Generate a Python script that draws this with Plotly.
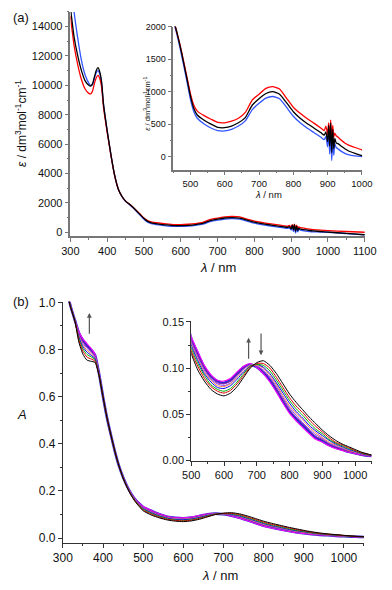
import plotly.graph_objects as go

# ---- panel (a): molar absorptivity, three spectra ----
wl_a = [300, 310, 320, 330, 340, 350, 355, 360, 365, 370, 375, 380, 385, 390,
        400, 410, 420, 430, 440, 450, 460, 470, 480, 490, 500, 510, 520, 540,
        560, 580, 600, 620, 640, 660, 680, 700, 720, 740, 760, 780, 800, 820,
        840, 860, 880, 890, 895, 900, 903, 906, 909, 912, 915, 918, 921, 925,
        930, 940, 950, 960, 980, 1000, 1050, 1100]

eps_black = [15300, 13300, 12000, 11000, 10300, 10000, 9950, 10100, 10550, 11000, 11200, 10900, 10200, 8700,
             6900, 5300, 3900, 2950, 2450, 2120, 1920, 1700, 1450, 1190, 930, 740, 640, 560,
             500, 450, 445, 470, 520, 600, 790, 890, 970, 1000, 960, 830, 690, 590,
             510, 440, 370, 330, 380, 230, 480, 160, 520, 60, 420, 120, 280, 210,
             200, 160, 120, 90, 50, 15, -80, -170]

eps_red = [14700, 12700, 11400, 10400, 9750, 9450, 9420, 9600, 10100, 10500, 10680, 10450, 9850, 8500,
           6800, 5250, 3880, 2950, 2450, 2120, 1920, 1710, 1470, 1220, 970, 790, 700, 630,
           575, 525, 520, 545, 590, 680, 870, 960, 1050, 1076, 1040, 900, 760, 665,
           585, 515, 440, 400, 470, 340, 520, 300, 560, 280, 480, 300, 360, 320,
           300, 250, 210, 180, 140, 105, 50, 0]

eps_blue = [17500, 15000, 13200, 11700, 10700, 10150, 10000, 10050, 10450, 10850, 11000, 10750, 10050, 8700,
            6900, 5300, 3900, 2950, 2430, 2100, 1890, 1660, 1410, 1150, 880, 690, 590, 500,
            440, 400, 395, 420, 470, 550, 720, 820, 900, 924, 890, 760, 620, 520,
            440, 370, 300, 260, 310, 150, 380, 40, 320, -60, 260, 20, 200, 140,
            120, 80, 50, 30, 10, 0, -90, -180]

# ---- panel (b): absorbance titration ----
wl_b = [300, 310, 320, 330, 340, 350, 360, 370, 380, 390, 400, 410, 420, 430, 440, 450, 460, 470, 480, 490,
        500, 520, 540, 560, 580, 600, 620, 640, 660, 680, 700, 720, 740, 760, 780, 800, 820, 840, 860, 880,
        900, 920, 940, 960, 980, 1000, 1020, 1040, 1050]

A_black = [1.12, 1.04, 0.975, 0.92, 0.83, 0.78, 0.755, 0.75, 0.745, 0.69, 0.60, 0.51, 0.435, 0.365, 0.305, 0.255, 0.215, 0.182, 0.155, 0.134,
           0.116, 0.098, 0.086, 0.077, 0.072, 0.070, 0.073, 0.080, 0.090, 0.100, 0.106, 0.108, 0.103, 0.094, 0.083, 0.072, 0.063, 0.055, 0.047, 0.040,
           0.033, 0.027, 0.022, 0.018, 0.015, 0.012, 0.009, 0.007, 0.006]
A_red = [1.122, 1.042, 0.976, 0.921, 0.838, 0.792, 0.768, 0.760, 0.751, 0.692, 0.60, 0.51, 0.435, 0.365, 0.305, 0.256, 0.216, 0.183, 0.157, 0.137,
         0.119, 0.102, 0.089, 0.080, 0.075, 0.073, 0.076, 0.083, 0.092, 0.101, 0.105, 0.105, 0.100, 0.090, 0.079, 0.068, 0.059, 0.052, 0.044, 0.037,
         0.031, 0.025, 0.020, 0.017, 0.014, 0.011, 0.0085, 0.0066, 0.006]
A_green = [1.123, 1.043, 0.977, 0.922, 0.845, 0.802, 0.779, 0.769, 0.757, 0.693, 0.60, 0.51, 0.435, 0.365, 0.305, 0.256, 0.217, 0.185, 0.159, 0.139,
           0.122, 0.105, 0.092, 0.082, 0.077, 0.075, 0.078, 0.085, 0.094, 0.102, 0.104, 0.103, 0.097, 0.087, 0.076, 0.065, 0.056, 0.049, 0.041, 0.034,
           0.029, 0.023, 0.019, 0.016, 0.013, 0.0105, 0.008, 0.0063, 0.006]
A_blue = [1.125, 1.045, 0.977, 0.922, 0.852, 0.811, 0.789, 0.776, 0.762, 0.695, 0.60, 0.51, 0.435, 0.365, 0.305, 0.256, 0.217, 0.186, 0.160, 0.141,
          0.125, 0.108, 0.094, 0.085, 0.079, 0.078, 0.081, 0.088, 0.096, 0.102, 0.104, 0.101, 0.094, 0.084, 0.073, 0.062, 0.053, 0.046, 0.038, 0.032,
          0.027, 0.022, 0.018, 0.015, 0.012, 0.010, 0.0076, 0.006, 0.0055]
A_orange = [1.126, 1.046, 0.978, 0.923, 0.857, 0.819, 0.797, 0.783, 0.766, 0.696, 0.60, 0.51, 0.435, 0.365, 0.305, 0.257, 0.218, 0.187, 0.162, 0.142,
            0.127, 0.110, 0.096, 0.087, 0.081, 0.080, 0.083, 0.090, 0.097, 0.103, 0.103, 0.100, 0.092, 0.082, 0.070, 0.059, 0.051, 0.044, 0.036, 0.030,
            0.025, 0.020, 0.017, 0.014, 0.011, 0.0093, 0.0072, 0.0058, 0.0055]
A_violet = [1.127, 1.047, 0.978, 0.923, 0.862, 0.826, 0.805, 0.789, 0.770, 0.697, 0.60, 0.51, 0.435, 0.365, 0.305, 0.257, 0.219, 0.188, 0.163, 0.144,
            0.129, 0.112, 0.098, 0.088, 0.083, 0.081, 0.084, 0.091, 0.099, 0.104, 0.102, 0.098, 0.090, 0.080, 0.068, 0.057, 0.049, 0.041, 0.034, 0.028,
            0.024, 0.019, 0.016, 0.013, 0.011, 0.0088, 0.0069, 0.0056, 0.0053]
A_purple = [1.128, 1.048, 0.979, 0.924, 0.866, 0.832, 0.811, 0.794, 0.773, 0.698, 0.60, 0.51, 0.435, 0.365, 0.305, 0.257, 0.219, 0.188, 0.164, 0.145,
            0.130, 0.114, 0.100, 0.090, 0.084, 0.083, 0.086, 0.093, 0.100, 0.104, 0.102, 0.097, 0.089, 0.078, 0.066, 0.055, 0.047, 0.040, 0.033, 0.026,
            0.023, 0.018, 0.015, 0.012, 0.010, 0.0084, 0.0066, 0.0054, 0.0052]
A_royal = [1.129, 1.049, 0.979, 0.924, 0.870, 0.839, 0.818, 0.800, 0.777, 0.699, 0.60, 0.51, 0.435, 0.365, 0.305, 0.258, 0.220, 0.189, 0.165, 0.147,
           0.132, 0.116, 0.101, 0.091, 0.086, 0.084, 0.087, 0.094, 0.101, 0.104, 0.101, 0.095, 0.087, 0.076, 0.064, 0.053, 0.045, 0.038, 0.031, 0.025,
           0.021, 0.017, 0.014, 0.012, 0.0095, 0.008, 0.0063, 0.0052, 0.0051]
A_magenta = [1.13, 1.05, 0.98, 0.925, 0.875, 0.845, 0.825, 0.805, 0.78, 0.70, 0.60, 0.51, 0.435, 0.365, 0.305, 0.258, 0.22, 0.19, 0.166, 0.148,
             0.134, 0.118, 0.103, 0.093, 0.087, 0.086, 0.089, 0.096, 0.102, 0.105, 0.101, 0.094, 0.085, 0.074, 0.062, 0.051, 0.043, 0.036, 0.029, 0.023,
             0.020, 0.016, 0.013, 0.011, 0.009, 0.0075, 0.006, 0.005, 0.005]

FONT = "Liberation Sans, Arial, sans-serif"
W, H = 392, 590

fig = go.Figure()

# panel (a) main + inset
a_lines = [(eps_blue, "#3355ff"), (eps_red, "#ff0000"), (eps_black, "#000000")]
for ax_x, ax_y in [("x", "y"), ("x2", "y2")]:
    for vals, col in a_lines:
        fig.add_trace(go.Scatter(x=wl_a, y=vals, mode="lines", xaxis=ax_x, yaxis=ax_y,
                                 line=dict(color=col, width=1.3, shape="spline", smoothing=0.5),
                                 showlegend=False))

# panel (b) main + inset; thick royal blue underneath, early spectra on top
b_lines = [(A_royal, "#2a2ad0", 2.6), (A_magenta, "#ff00ff", 1.1), (A_purple, "#a020a0", 1),
           (A_violet, "#8040ff", 1), (A_orange, "#ff8040", 1), (A_blue, "#0000ff", 1),
           (A_green, "#00b000", 1), (A_red, "#e00000", 1), (A_black, "#000000", 1)]
for ax_x, ax_y in [("x3", "y3"), ("x4", "y4")]:
    for vals, col, lw in b_lines:
        fig.add_trace(go.Scatter(x=wl_b, y=vals, mode="lines", xaxis=ax_x, yaxis=ax_y,
                                 line=dict(color=col, width=lw, shape="spline", smoothing=0.6),
                                 showlegend=False))


def axis(rng, dom, anchor, dtick, mdtick, size, lc, lw, fmt="d"):
    return dict(range=rng, domain=dom, anchor=anchor, tick0=0, dtick=dtick,
                showline=True, linecolor=lc, linewidth=lw, ticks="outside", ticklen=4,
                tickcolor=lc, tickwidth=1, showgrid=False, zeroline=False,
                minor=dict(dtick=mdtick, ticks="outside", ticklen=2, tickcolor=lc),
                tickfont=dict(size=size, color="#111", family=FONT), tickformat=fmt)


def px_x(a, b):
    return [a / W, b / W]


def px_y(top, bottom):
    return [1 - bottom / H, 1 - top / H]


fig.update_layout(
    width=W, height=H, margin=dict(l=0, r=0, t=0, b=0),
    paper_bgcolor="white", plot_bgcolor="white", showlegend=False,
    font=dict(family=FONT, color="#111"),
    xaxis=axis([300, 1100.5], px_x(64, 376), "y", 100, 50, 11, "#777", 1.5),
    yaxis=axis([-270, 15000], px_y(6, 235), "x", 2000, 1000, 11, "#777", 1.5),
    xaxis2=axis([450, 1000.5], px_x(173, 373), "y2", 100, 50, 9.5, "#777", 1.5),
    yaxis2=axis([-200, 2000], px_y(21, 167), "x2", 500, 250, 9, "#777", 1.5),
    xaxis3=axis([300, 1050], px_x(56, 375), "y3", 100, 50, 12, "#333", 1),
    yaxis3=axis([-0.02, 1.002], px_y(302, 548), "x3", 0.2, 0.1, 12, "#333", 1, ".1f"),
    xaxis4=axis([500, 1050], px_x(192, 383), "y4", 100, 50, 11, "#333", 1),
    yaxis4=axis([0, 0.1505], px_y(322, 464), "x4", 0.05, 0.025, 11, "#333", 1, ".2f"),
)

eps_title = "<i>ε</i> / dm<sup>3</sup>mol<sup>-1</sup>cm<sup>-1</sup>"
lam_title = "<i>λ</i> / nm"


def note(text, x, y, size, angle=0, xanchor="center"):
    fig.add_annotation(text=text, x=x / W, y=1 - y / H, xref="paper", yref="paper",
                       showarrow=False, textangle=angle, xanchor=xanchor, yanchor="middle",
                       font=dict(size=size, family=FONT, color="#111"))


note("(a)", 1, 12, 13, xanchor="left")
note("(b)", 1, 302, 13, xanchor="left")
note(lam_title, 220, 267, 13)
note(eps_title, 11, 120, 12, angle=-90)
note(lam_title, 274, 192, 9.5)
note(eps_title, 145, 100, 7.5, angle=-90)
note(lam_title, 222, 581, 13)
note("<i>A</i>", 13, 417, 13)

# arrows in panel (b)
arrows = [("x3", "y3", 366, 0.86, 0.955), ("x4", "y4", 675, 0.1085, 0.133),
          ("x4", "y4", 713, 0.139, 0.114)]
for xr, yr, xv, y0, y1 in arrows:
    fig.add_annotation(x=xv, y=y1, ax=xv, ay=y0, xref=xr, yref=yr, axref=xr, ayref=yr,
                       text="", showarrow=True, arrowhead=2, arrowsize=0.8, arrowwidth=1.2,
                       arrowcolor="#555")

# drop the default page margin so the figure sits at the window's corner
fig.write_html("out.html", config={"displayModeBar": False},
               post_script="document.body.style.margin='0';document.body.style.overflow='hidden';")
